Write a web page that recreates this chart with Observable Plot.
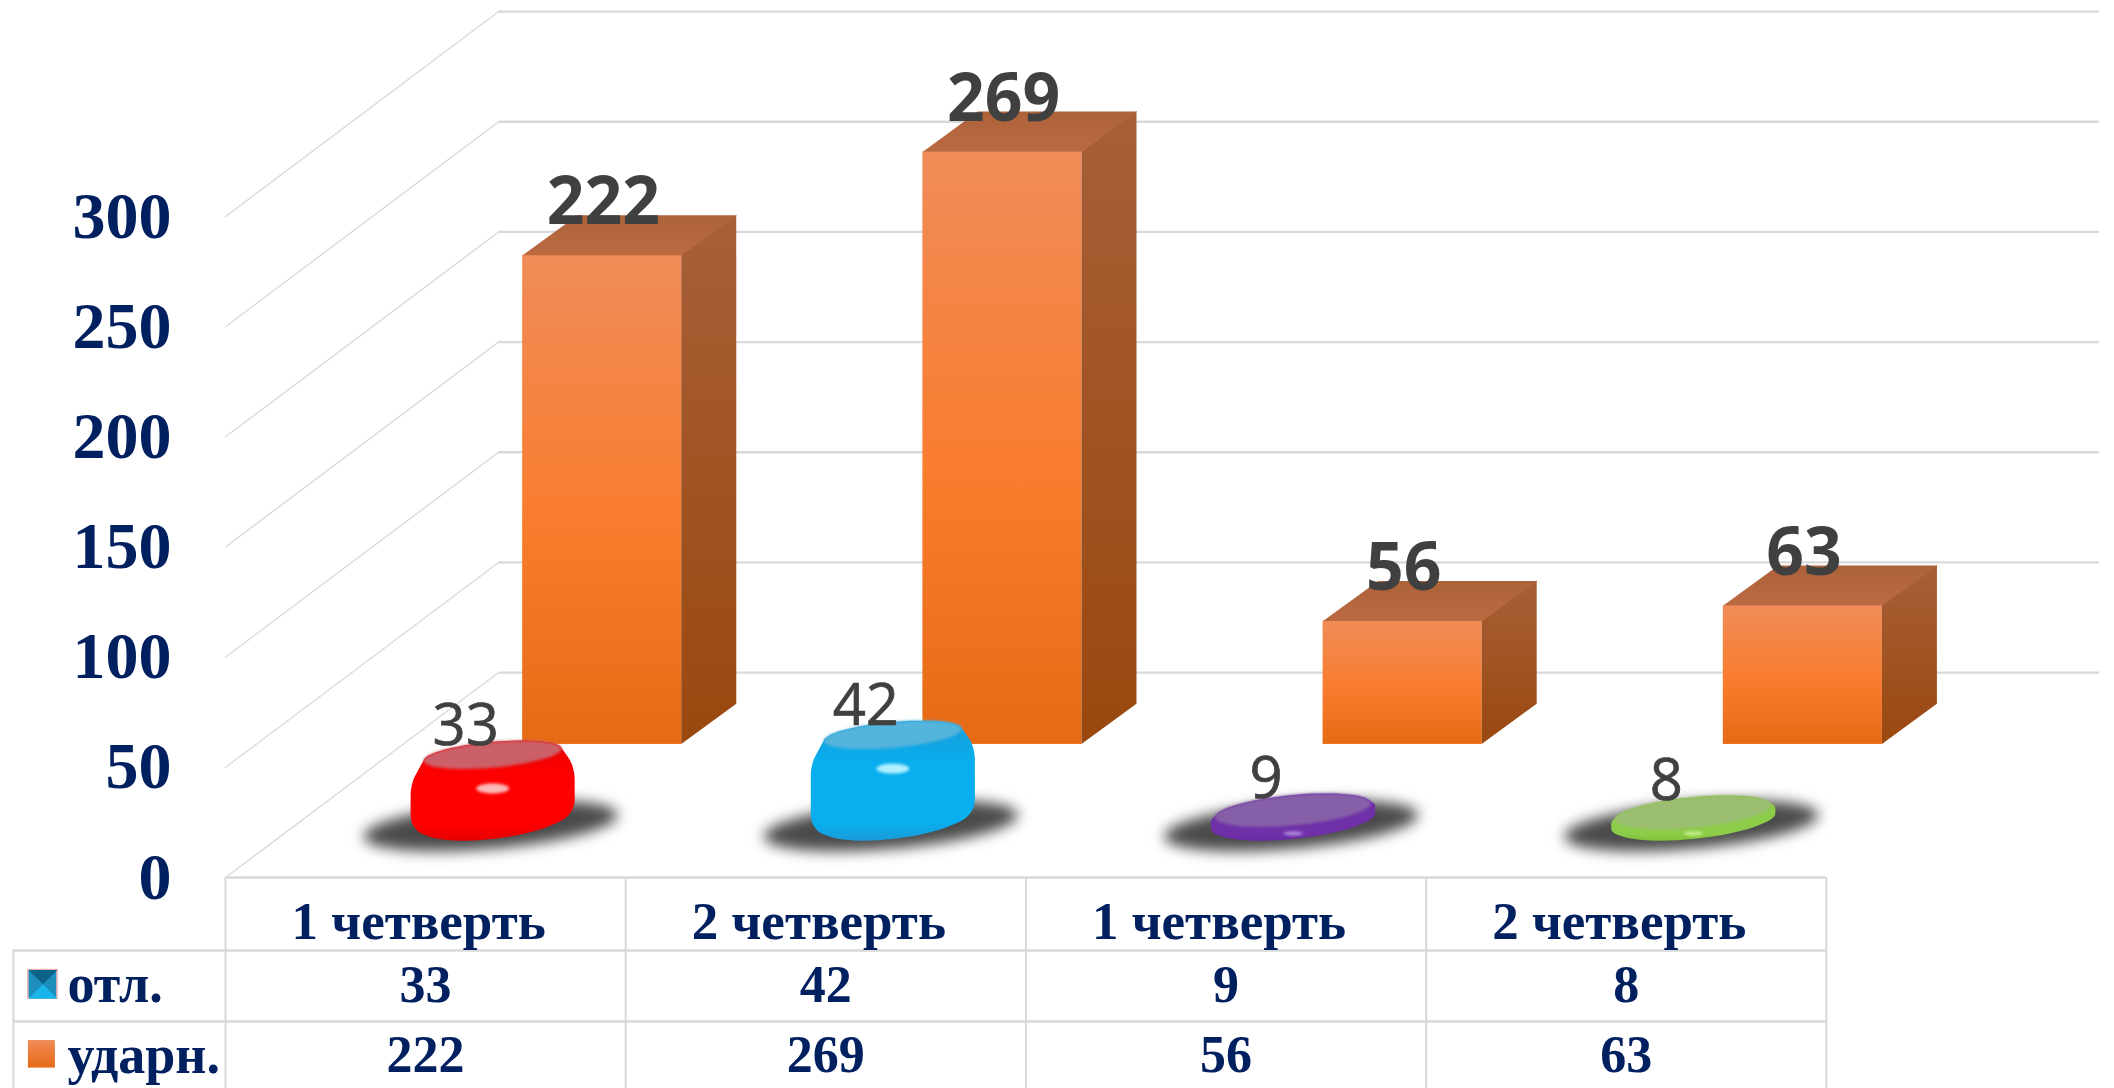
<!DOCTYPE html>
<html><head><meta charset="utf-8">
<script src="https://cdn.jsdelivr.net/npm/d3@7"></script>
<script src="https://cdn.jsdelivr.net/npm/@observablehq/plot@0.6"></script>
<style>html,body{margin:0;padding:0;background:#fff;overflow:hidden}svg{display:block}</style>
</head><body><div id="chart"></div>
<script>
const categories = ["1 четверть", "2 четверть", "1 четверть", "2 четверть"];
const otl = [33, 42, 9, 8];
const udarn = [222, 269, 56, 63];
const seriesNames = ["отл.", "ударн."];
const yTicks = [0, 50, 100, 150, 200, 250, 300];
const discSide = ["#ff0000", "#08aeee", "#7030a8", "#8ccc48"];
const discDark = ["#e40000", "#1a9bd8", "#6a28a8", "#80c038"];
const discTop = ["#cc6068", "#55b4dc", "#8560a8", "#9bbd72"];
const discGlint = ["#ffb8b8", "#b0f0ff", "#b48be0", "#c8f090"];
const navy = "#002060", grid = "#d9d9d9", labelInk = "#404040";

// layout in scale units: x in category slots, y in value units
const wallDx = 0.6825, wallDy = 93;
const barX = 0.7425, barW = 0.3975, barBase = 60.4, barDx = 0.1375, barDy = 18.2;
const discX = 0.6675, discRx = 0.205, discRy = 7.5, discSkew = 3.5, discFloor = 25, discLift = 20.9;
const rowLines = [-33.1, -65.4], tableEnd = -96, tableLeft = -0.53, slots = categories.length;

const idx = d3.range(slots);
const ellipse = (cx, cy, s = 1, k = 1, skew = discSkew) => d3.range(64).map(j => {
  const t = j / 64 * 2 * Math.PI;
  return [cx + discRx * s * Math.cos(t), cy + (discRy * Math.sin(t) + skew * Math.cos(t)) * k];
});
const poly = (pts, fill, extra = {}) => Plot.line(pts, {x: "0", y: "1", curve: "linear-closed", fill, stroke: "none", ...extra});
const rounded = (span, from) => d3.range(9).map(j => {
  const f = j / 8;
  return [f * span, from + (1 - from) * Math.sqrt(1 - (1 - f) * (1 - f))];
});

const defs = () => {
  const d = d3.create("svg:defs");
  const grad = (id, stops, x2 = 0, y2 = 1) => {
    const g = d.append("linearGradient").attr("id", id).attr("x1", 0).attr("y1", 0).attr("x2", x2).attr("y2", y2);
    stops.forEach(([o, c]) => g.append("stop").attr("offset", o).attr("stop-color", c));
  };
  grad("front", [[0, "#f08c58"], [0.55, "#f97c2e"], [1, "#e66a14"]]);
  grad("side", [[0, "#a85f38"], [1, "#99480e"]]);
  grad("top", [[0, "#ad6239"], [1, "#bb6a42"]]);
  grad("swatch", [[0, "#f08c58"], [1, "#e66a14"]]);
  discSide.forEach((c, i) => grad("disc" + i, [[0, discDark[i]], [0.35, c], [0.85, c], [1, discDark[i]]]));
  return d.node();
};

const wall = yTicks.flatMap(t => [{x: 0, y: t, t}, {x: wallDx, y: t + wallDy, t}]);
const barMarks = idx.flatMap(i => {
  const x0 = i + barX, x1 = x0 + barW, top = barBase + udarn[i];
  return [
    Plot.rect([0], {x1: () => x0, x2: () => x1, y1: () => barBase, y2: () => top, fill: "url(#front)"}),
    Plot.areaY([[x1, barBase, top], [x1 + barDx, barBase + barDy, top + barDy]], {x: "0", y1: "1", y2: "2", fill: "url(#side)"}),
    poly([[x0, top], [x0 + barDx, top + barDy], [x1 + barDx, top + barDy], [x1, top]], "url(#top)")
  ];
});
const discMarks = idx.flatMap(i => {
  const cx = i + discX, yTop = discLift + otl[i], tall = otl[i] > 20;
  const faceS = tall ? 0.84 : 0.95, faceK = tall ? 0.78 : 0.92;
  const faceY = yTop + 8.3 * (1 - faceK);
  const shoulder = tall ? rounded(13, 0.76) : [[0, 0.95], [0.5, 0.98], [1, 1]];
  const foot = tall ? rounded(7, 0.86) : [[0.5, 1], [0, 0.96]];
  const hull = d3.polygonHull([
    ...ellipse(cx, faceY, faceS, faceK),
    ...shoulder.flatMap(([dy, s]) => ellipse(cx, yTop - dy, s)),
    ...foot.flatMap(([dy, s]) => ellipse(cx, discFloor + dy, s))
  ]);
  const glintY = tall ? yTop - 13.5 : discFloor - 5, glintS = tall ? 0.2 : 0.12, glintK = tall ? 0.3 : 0.12;
  return [
    poly(ellipse(cx - 0.005, discFloor - 1.5, 1.55, 1.4), "#4a4a4a", {imageFilter: "blur(7px)"}),
    poly(hull, "url(#disc" + i + ")"),
    poly(ellipse(cx, faceY, faceS, faceK), discTop[i], {imageFilter: "blur(1.5px)"}),
    poly(ellipse(cx, glintY, glintS, glintK, 0), discGlint[i], {imageFilter: "blur(1.5px)"})
  ];
});

const serif = "Liberation Serif";
const cell = (y, vals, x = i => i + 0.5, size = 52) => Plot.text(vals, {
  x: (d, i) => x(i), y: () => y, text: d => String(d), fontFamily: serif, fontWeight: 700, fontSize: size, fill: navy
});
const legend = (y, t) => Plot.text([t], {x: () => -0.395, y: () => y, text: d => d, textAnchor: "start",
  fontFamily: serif, fontWeight: 700, fontSize: 54, fill: navy});

const chart = Plot.plot({
  width: 2114, height: 1088,
  marginLeft: 225, marginRight: 15, marginTop: 216, marginBottom: 211,
  x: {domain: [0, slots + wallDx], axis: null},
  y: {domain: [0, 300], axis: null},
  marks: [
    defs,
    Plot.line(wall, {x: "x", y: "y", z: "t", stroke: grid, strokeWidth: 1.3}),
    Plot.ruleY(yTicks, {y: d => d + wallDy, x1: wallDx, x2: slots + wallDx, stroke: grid, strokeWidth: 2.4}),
    ...barMarks,
    ...discMarks,
    Plot.axisY(yTicks, {tickSize: 0, tickPadding: 54, label: null, fontFamily: serif, fontWeight: 700, fontSize: 66, color: navy}),
    Plot.text(udarn, {x: (d, i) => i + barX + barW / 2 + 0.003, y: d => barBase + d + 14.5 , text: d => String(d), lineAnchor: "bottom",
      fontFamily: "Open Sans", fontWeight: 700, fontSize: 66, fill: labelInk, ariaLabel: "bigval", dy: 1}),
    Plot.text(otl, {x: (d, i) => i + 0.6, y: d => discLift + d + 5, text: d => String(d), lineAnchor: "bottom",
      fontFamily: "Open Sans", fontSize: 58, fill: labelInk, stroke: labelInk, strokeWidth: 0.7, ariaLabel: "smallval", dy: -3}),
    // data table
    Plot.ruleY([0], {x1: 0, x2: slots, stroke: grid, strokeWidth: 2.5}),
    Plot.ruleY(rowLines, {x1: tableLeft, x2: slots, stroke: grid, strokeWidth: 2.5}),
    Plot.ruleX(d3.range(slots + 1), {y1: 0, y2: tableEnd, stroke: grid, strokeWidth: 2}),
    Plot.ruleX([tableLeft], {y1: rowLines[0], y2: tableEnd, stroke: grid, strokeWidth: 2}),
    cell(-20, categories, i => i + 0.4825, 53),
    cell(-48.8, otl),
    cell(-80.8, udarn),
    legend(-48.8, seriesNames[0]),
    legend(-80.8, seriesNames[1]),
    Plot.rect([0], {x1: () => -0.4925, x2: () => -0.42, y1: () => -42, y2: () => -55, fill: "#1c8fbc", stroke: "#e8b0b0", strokeWidth: 1.5}),
    poly([[-0.4925, -55], [-0.42, -55], [-0.456, -48.5]], "#19b5ea"),
    poly([[-0.4925, -42], [-0.42, -42], [-0.456, -48.5]], "#0b6488"),
    Plot.rect([0], {x1: () => -0.4925, x2: () => -0.425, y1: () => -74, y2: () => -86.5, fill: "url(#swatch)"})
  ]
});
const sq = (label, perDigit) => d3.select(chart).selectAll(`g[aria-label="${label}"] text`).each(function () {
  const n = this.textContent.length;
  d3.select(this).attr("textLength", n * perDigit).attr("lengthAdjust", "spacingAndGlyphs");
});
document.getElementById("chart").append(chart);
sq("bigval", 36);
sq("smallval", 29.5);
</script></body></html>
